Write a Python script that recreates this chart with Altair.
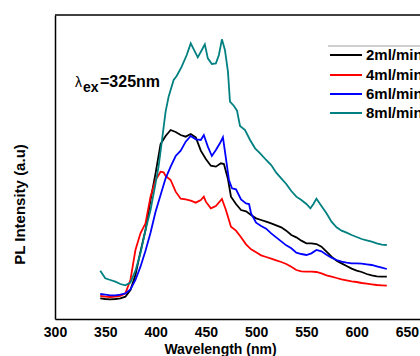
import altair as alt
import pandas as pd

series_names = ["2ml/min", "4ml/min", "6ml/min", "8ml/min"]
series_colors = ["#000000", "#ff0000", "#0000ff", "#008080"]
x_ticks = [300, 350, 400, 450, 500, 550, 600, 650]

wl_2 = [345, 350, 355, 360, 365, 370, 375, 380, 385, 390, 395, 400, 405, 410, 415, 420, 425, 430, 435, 440,
        445, 450, 455, 460, 465, 468, 472, 475, 480, 485, 490, 495, 500, 505, 510, 515, 520, 525, 530, 535,
        540, 545, 550, 555, 560, 565, 570, 575, 580, 585, 590, 595, 600, 605, 610, 615, 620, 625, 630]
pl_2 = [62, 60, 59, 60, 62, 67, 87, 132, 202, 267, 357, 437, 525, 549, 567, 561, 552, 547, 555, 545,
        505, 480, 460, 457, 467, 465, 420, 367, 345, 327, 323, 312, 302, 297, 292, 287, 281, 275, 265, 252,
        245, 235, 227, 227, 225, 217, 202, 187, 175, 167, 159, 151, 145, 141, 135, 131, 128, 127, 127]

wl_4 = [345, 350, 355, 360, 365, 370, 375, 380, 385, 390, 395, 400, 405, 408, 410, 415, 420, 425, 430, 435,
        440, 445, 448, 450, 455, 460, 466, 470, 475, 480, 485, 490, 495, 500, 505, 510, 515, 520, 525, 530,
        535, 540, 545, 550, 555, 560, 565, 570, 575, 580, 585, 590, 595, 600, 605, 610, 615, 620, 625, 630]
pl_4 = [69, 67, 66, 67, 69, 77, 117, 207, 257, 287, 367, 417, 442, 440, 429, 417, 382, 361, 359, 355,
        349, 357, 367, 352, 332, 339, 360, 327, 277, 265, 245, 224, 209, 200, 191, 186, 181, 176, 171, 165,
        157, 147, 143, 142, 142, 141, 137, 131, 127, 123, 119, 116, 113, 111, 108, 106, 104, 102, 101, 100]

wl_6 = [345, 350, 355, 360, 365, 370, 375, 380, 385, 390, 395, 400, 405, 410, 415, 420, 425, 430, 435, 440,
        445, 448, 452, 456, 460, 464, 467, 470, 473, 476, 480, 485, 490, 493, 495, 500, 505, 510, 515, 520,
        525, 530, 535, 540, 545, 550, 555, 560, 565, 570, 575, 580, 585, 590, 595, 600, 605, 610, 615, 620,
        625, 630]
pl_6 = [75, 73, 71, 71, 73, 77, 89, 117, 157, 205, 259, 322, 372, 422, 457, 489, 505, 532, 549, 539,
        537, 552, 517, 489, 507, 527, 545, 482, 417, 392, 389, 359, 347, 345, 317, 289, 279, 271, 257, 245,
        233, 221, 212, 199, 195, 192, 197, 207, 203, 193, 184, 177, 172, 169, 167, 167, 166, 164, 162, 158,
        154, 150]

wl_8 = [345, 350, 355, 360, 365, 370, 375, 380, 385, 390, 395, 400, 403, 406, 410, 413, 418, 421, 426, 431,
        435, 438, 442, 446, 449, 452, 456, 460, 463, 466, 469, 472, 474, 478, 481, 484, 489, 494, 499, 504,
        510, 515, 520, 525, 530, 535, 540, 545, 550, 554, 557, 560, 565, 570, 575, 580, 585, 590, 595, 600,
        605, 610, 615, 620, 625, 630]
pl_8 = [145, 122, 117, 112, 105, 101, 109, 145, 197, 267, 327, 407, 457, 527, 622, 667, 717, 729, 757, 792,
        827, 809, 785, 807, 824, 782, 765, 767, 792, 839, 807, 742, 652, 639, 625, 579, 567, 537, 512, 497,
        477, 462, 439, 422, 405, 384, 367, 357, 345, 332, 345, 361, 339, 317, 292, 275, 265, 259, 252, 246,
        240, 236, 232, 227, 223, 222]

rows = []
for name, wls, vals in zip(series_names, [wl_2, wl_4, wl_6, wl_8], [pl_2, pl_4, pl_6, pl_8]):
    for w, v in zip(wls, vals):
        rows.append({"wl": w, "I": v, "s": name})
df = pd.DataFrame(rows)

W, H = 365, 304
FONT = "Liberation Sans"

lines = alt.Chart(df).mark_line(strokeWidth=1.8, clip=True).encode(
    x=alt.X("wl:Q",
            scale=alt.Scale(domain=[300, 663], nice=False, zero=False),
            axis=alt.Axis(values=x_ticks, ticks=False, grid=False, labelFont=FONT,
                          labelFontWeight="bold", labelFontSize=14, labelColor="black",
                          labelPadding=6, labelFlush=False, domainColor="black", domainWidth=1.5,
                          title="Wavelength (nm)", titleFont=FONT, titleFontSize=14,
                          titleFontWeight="bold", titleColor="black", titleX=165, titleY=34,
                          titleBaseline="alphabetic", titleAlign="center")),
    y=alt.Y("I:Q",
            scale=alt.Scale(domain=[0, 912], nice=False, zero=False),
            axis=alt.Axis(labels=False, ticks=False, grid=False, domainColor="black",
                          domainWidth=1.5, title="PL Intensity (a.u)", titleFont=FONT,
                          titleFontSize=15, titleFontWeight="bold", titleColor="black",
                          titleX=-31, titleY=189, titleAngle=270, titleBaseline="alphabetic",
                          titleAlign="center")),
    color=alt.Color("s:N", scale=alt.Scale(domain=series_names, range=series_colors), legend=None),
)

top_border = alt.Chart(pd.DataFrame({"a": [0]})).mark_rule(color="black", strokeWidth=1.5).encode(
    x=alt.value(0), x2=alt.value(W), y=alt.value(0))

layers = [lines, top_border]

# legend box top edge
layers.append(alt.Chart(pd.DataFrame({"a": [0]})).mark_rule(color="#a0a0a0", strokeWidth=1).encode(
    x=alt.value(273), x2=alt.value(W), y=alt.value(31)))

legend_y = [40, 60, 79, 98]
for name, color, yy in zip(series_names, series_colors, legend_y):
    layers.append(alt.Chart(pd.DataFrame({"a": [0]})).mark_rule(color=color, strokeWidth=2).encode(
        x=alt.value(275), x2=alt.value(307), y=alt.value(yy)))
    layers.append(alt.Chart(pd.DataFrame({"t": [name]})).mark_text(
        font=FONT, fontSize=15, fontWeight="bold", color="black", align="left", baseline="middle"
    ).encode(text="t:N", x=alt.value(311), y=alt.value(yy)))

# excitation annotation
layers.append(alt.Chart(pd.DataFrame({"t": ["λ"]})).mark_text(
    font=FONT, fontSize=14, color="black", align="left", baseline="alphabetic"
).encode(text="t:N", x=alt.value(20), y=alt.value(72)))
layers.append(alt.Chart(pd.DataFrame({"t": ["ex"]})).mark_text(
    font=FONT, fontSize=14, fontWeight="bold", color="black", align="left", baseline="alphabetic"
).encode(text="t:N", x=alt.value(28), y=alt.value(77)))
layers.append(alt.Chart(pd.DataFrame({"t": ["=325nm"]})).mark_text(
    font=FONT, fontSize=16, fontWeight="bold", color="black", align="left", baseline="alphabetic"
).encode(text="t:N", x=alt.value(45), y=alt.value(72)))

chart = alt.layer(*layers).properties(
    width=W, height=H,
    autosize=alt.AutoSizeParams(type="none"),
    padding={"left": 55, "top": 15, "right": 0, "bottom": 37},
    background="white",
).configure_view(stroke=None)

chart.save("out.html", embed_options={"renderer": "svg", "actions": False})
